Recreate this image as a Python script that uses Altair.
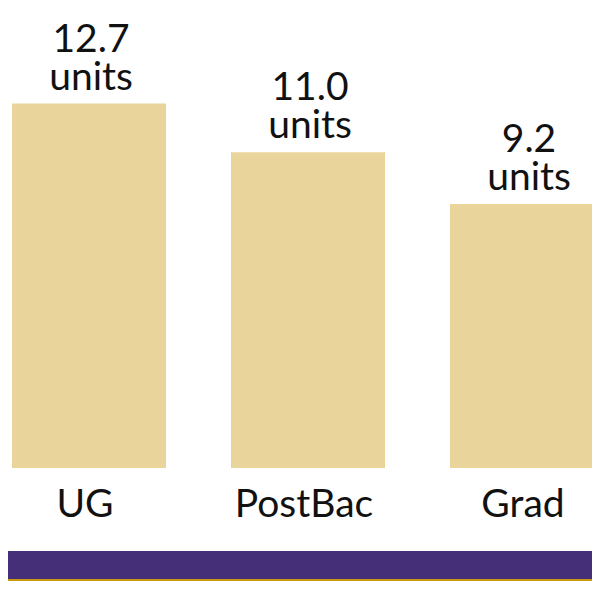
import altair as alt
import pandas as pd

categories = ["UG", "PostBac", "Grad"]
values = [12.7, 11.0, 9.2]
value_text = ["12.7", "11.0", "9.2"]
unit_text = ["units", "units", "units"]

df = pd.DataFrame({"cat": categories, "val": values, "vt": value_text, "ut": unit_text})

W, H = 584, 573
ppu = 28.7
zero_px = 460
y_dom = [-(H - zero_px) / ppu, zero_px / ppu]

x_enc = alt.X("cat:N", sort=categories,
              scale=alt.Scale(range=[4, 596], paddingInner=65 / 219, paddingOuter=0),
              axis=None)
y_scale = alt.Scale(domain=y_dom, nice=False, zero=False)

bars = alt.Chart(df).mark_bar(color="#E9D49B", clip=True).encode(
    x=x_enc,
    y=alt.Y("val:Q", scale=y_scale, axis=None),
    y2=alt.datum(0),
)

txt = dict(font="Lato", fontSize=39, color="#111111", baseline="alphabetic")

vline = alt.Chart(df).mark_text(dy=-52, dx=2, **txt).encode(
    x=x_enc, y=alt.Y("val:Q", scale=y_scale), text="vt:N")
uline = alt.Chart(df).mark_text(dy=-14, dx=2, **txt).encode(
    x=x_enc, y=alt.Y("val:Q", scale=y_scale), text="ut:N")

clabels = alt.Chart(df).mark_text(dy=49, dx=-4, **txt).encode(
    x=x_enc, y=alt.datum(0), text="cat:N")

band = alt.Chart(df).mark_rect(color="#452F78").encode(
    x=alt.value(0), x2=alt.value(W), y=alt.value(543), y2=alt.value(H - 2)
)
gold = alt.Chart(df).mark_rect(color="#C99A0E").encode(
    x=alt.value(0), x2=alt.value(W), y=alt.value(H - 2), y2=alt.value(H)
)

chart = alt.layer(bars, vline, uline, clabels, band, gold).properties(
    width=W, height=H, padding=0, autosize=alt.AutoSizeParams(type="none"),
).configure_view(stroke=None)

chart.save("out.html", embed_options={"renderer": "svg", "actions": False})
